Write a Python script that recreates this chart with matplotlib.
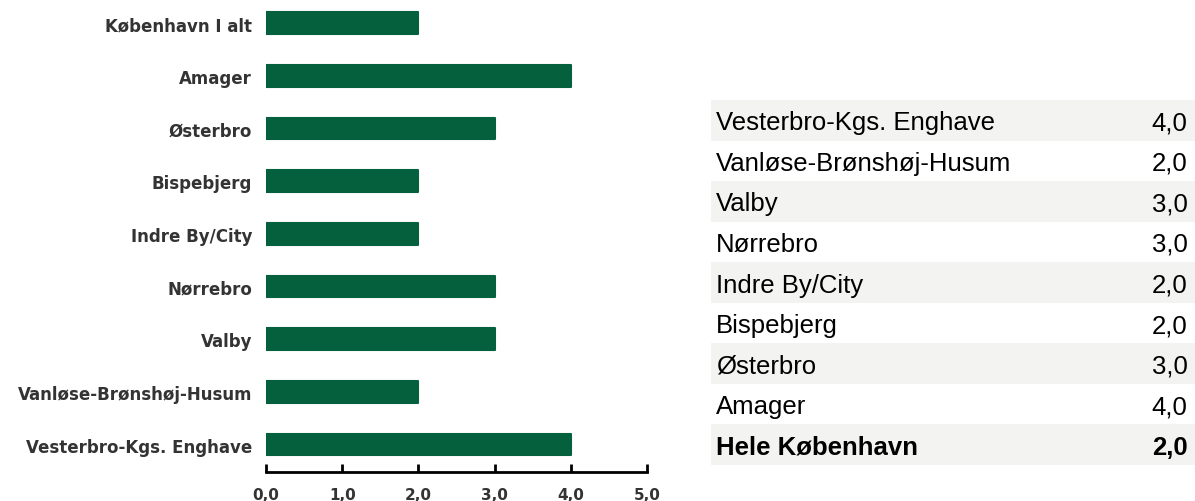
import matplotlib.pyplot as plt
from matplotlib.patches import Rectangle

# data, listed bottom-up for the bar chart / top-down for the table
districts = ['Vesterbro-Kgs. Enghave', 'Vanløse-Brønshøj-Husum', 'Valby', 'Nørrebro',
             'Indre By/City', 'Bispebjerg', 'Østerbro', 'Amager']
values = [4.0, 2.0, 3.0, 3.0, 2.0, 2.0, 3.0, 4.0]
total_label_chart = 'København I alt'
total_label_table = 'Hele København'
total_value = 2.0
x_ticks = [0, 1, 2, 3, 4, 5]


def fmt(v):
    return f'{v:.1f}'.replace('.', ',')


fig = plt.figure(figsize=(11.95, 5.02), dpi=100)

# bar chart
ax = fig.add_axes([0.2226, 0.0578, 0.3188, 0.9422])
labels = districts + [total_label_chart]
vals = values + [total_value]
ax.barh(range(len(vals)), vals, height=0.41, color='#05603e', edgecolor='#05603e',
        linewidth=1.5, joinstyle='round')
ax.set_xlim(0, 5)
ax.set_ylim(-0.52, 8.46)
ax.set_yticks(range(len(labels)))
ax.set_yticklabels(labels, fontsize=12, fontweight='bold', color='#333333')
ax.tick_params(axis='y', length=0, pad=10)
ax.set_xticks(x_ticks)
ax.set_xticklabels([fmt(t) for t in x_ticks], fontsize=11, fontweight='bold', color='#333333')
ax.tick_params(axis='x', direction='in', length=6, width=2, pad=11)
for s in ['top', 'right', 'left']:
    ax.spines[s].set_visible(False)
ax.spines['bottom'].set_linewidth(2)

# table on the right
tx = fig.add_axes([711 / 1195, 1 - 466 / 502, 484 / 1195, 365 / 502])
tx.set_xlim(0, 1)
rows = list(zip(districts, values)) + [(total_label_table, total_value)]
n = len(rows)
tx.set_ylim(n, 0)
tx.axis('off')
for i, (name, v) in enumerate(rows):
    if i % 2 == 0:
        tx.add_patch(Rectangle((0, i), 1, 1, color='#f3f3f1', lw=0))
    bold = i == n - 1
    w = 'bold' if bold else 'normal'
    tx.text(0.01, i + 0.55, name, fontsize=18.5, fontweight=w, va='center',
            family='Liberation Sans', color='black')
    tx.text(0.985, i + 0.55, fmt(v), fontsize=18.5, fontweight=w, va='center',
            ha='right', family='Liberation Sans', color='black')

fig.savefig('out.png', dpi=100)
